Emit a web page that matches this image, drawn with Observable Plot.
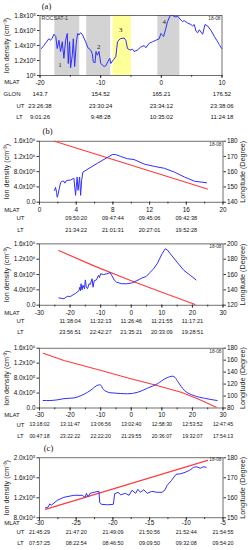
<!DOCTYPE html>
<html><head><meta charset="utf-8">
<script src="https://cdn.jsdelivr.net/npm/d3@7"></script>
<script src="https://cdn.jsdelivr.net/npm/@observablehq/plot@0.6"></script>
<style>
body{margin:0;background:#fff;}
#chart{position:relative;width:248px;height:550px;overflow:hidden;background:#fff;}
#chart svg{position:absolute;left:0;}
</style></head><body><div id="chart"></div>
<script>
const fontH = '"Liberation Sans Narrow","Liberation Sans",Arial,sans-serif';
const fontV = '"Liberation Sans",Arial,sans-serif';
const fontSerif = '"Liberation Serif","Times New Roman",serif';
const BLUE = "#2f2fff", RED = "#ff3b3b";

// ---------- Panel (a) ----------
const aMlat = [-19.75,-19.37,-18.81,-18.54,-18.26,-17.98,-17.7,-17.4,-17.16,-16.88,-16.61,-16.33,-16.06,-15.78,-15.5,-15.34,-15.12,-14.96,-14.68,-14.51,-14.29,-14.02,-13.8,-13.58,-13.31,-13.03,-12.48,-12.1,-11.65,-11.38,-11.21,-10.93,-10.77,-10.55,-10.27,-9.99,-9.44,-9.17,-8.78,-8.5,-8.34,-7.9,-7.5,-7.23,-6.79,-6.13,-5.85,-5.58,-5.14,-4.75,-4.48,-3.93,-3.38,-2.83,-2.55,-2.0,-1.45,-0.9,-0.35,-0.08,0.2,0.37,0.75,1.03,1.47,1.85,2.4,2.68,3.23,3.5,3.78,4.33,4.88,5.16,5.43,5.71,5.98,6.26,6.81,7.2,7.64,8.19,8.74,9.13,9.57,9.95];
const aDens = [1.36,1.40,1.46,1.49,1.47,1.50,1.55,1.52,1.36,1.47,1.32,1.45,1.23,1.47,1.56,1.16,1.45,1.10,1.27,1.49,1.12,1.43,1.56,1.54,1.57,1.55,1.45,1.37,1.34,1.29,1.18,1.17,1.32,1.27,1.32,1.16,1.12,1.13,1.19,1.23,1.16,1.21,1.25,1.45,1.49,1.50,1.47,1.36,1.34,1.35,1.32,1.34,1.38,1.40,1.37,1.43,1.45,1.47,1.49,1.56,1.54,1.52,1.63,1.72,1.80,1.80,1.78,1.79,1.74,1.72,1.73,1.70,1.68,1.66,1.68,1.59,1.57,1.61,1.55,1.68,1.66,1.60,1.52,1.47,1.41,1.36];
const aShadeStart = [-17.55,-12.3,-7.97,-0.58];
const aShadeEnd = [-13.45,-8.35,-4.93,3.06];
const aShadeColor = ["#d3d3d3","#d3d3d3","#ffff99","#d3d3d3"];
const aRegionName = ["1","2","3","4"];
const aRegionMlat = [-16.7,-10.3,-6.7,0.5];
const aRegionDens = [1.14,1.38,1.61,1.72];
const aYTicks = [1.0,1.2,1.4,1.6,1.8];
const aYLabels = ["10\u2075","1.2x10\u2075","1.4x10\u2075","1.6x10\u2075","1.8x10\u2075"];
const aXTicks = [-20,-10,0,10];
const aXMinor = [-20,-15,-10,-5,0,5,10];
const aGLON = ["143.7","154.52","165.21","176.52"];
const aUT = ["23:26:38","23:30:24","23:34:12","23:38:06"];
const aLT = ["9:01:26","9:48:28","10:35:02","11:24:18"];

// ---------- Panel (b) top ----------
const b1Mlat = [1.64,1.75,1.86,1.93,2.04,2.15,2.3,2.48,2.66,2.77,2.95,3.39,3.75,3.93,4.1,4.2,4.37,4.48,4.59,4.73,6.3,7.94,8.3,8.85,9.58,10.3,11.4,12.5,13.6,14.7,15.8,16.9,18.2];
const b1Dens = [0.31,0.39,0.26,0.13,0.22,0.35,0.52,0.55,0.55,0.50,0.57,0.58,0.63,0.18,0.66,0.31,0.66,0.18,0.57,0.79,1.02,1.25,1.25,1.20,1.14,1.12,1.00,0.94,0.89,0.79,0.66,0.55,0.51];
const b1LonMlat = [1.64,18.3];
const b1Lon = [180,148.6];
const b1XTicks = [0,4,8,12,16,20];
const b1XMinor = [0,2,4,6,8,10,12,14,16,18,20];
const b1UTpos = [4,8,12,16];
const b1UT = ["09:50:20","09:47:44","09:45:06","09:42:38"];
const b1LT = ["21:34:22","21:01:31","20:27:01","19:52:28"];
const bYTicks = [0,0.4,0.8,1.2,1.6];
const bYLabels = ["0.0","4.0x10\u2075","8.0x10\u2075","1.2x10\u2076","1.6x10\u2076"];
const b1RTicks = [140,150,160,170,180];

// ---------- Panel (b) middle ----------
const b2Mlat = [-23.67,-22.03,-20.93,-19.84,-18.2,-17.1,-16.8,-16.6,-16.4,-16.1,-15.8,-15.3,-15.0,-14.7,-14.3,-13.8,-13.4,-12.8,-12.5,-12.1,-11.4,-10.7,-10.4,-10.0,-9.1,-8.0,-6.9,-6.4,-5.6,-4.8,-3.1,-1.5,0.2,1.85,3.5,4.9,6.2,7.3,8.6,10.05,11.1,11.7,12.8,15.0,17.2,19.3,21.2];
const b2Dens = [0.19,0.17,0.23,0.23,0.31,0.38,0.47,0.38,0.56,0.40,0.52,0.43,0.66,0.47,0.43,0.56,0.54,0.69,0.47,0.64,0.66,0.78,0.72,0.82,0.80,0.82,0.85,0.78,0.66,0.60,0.56,0.56,0.58,0.64,0.71,0.75,0.86,0.95,1.10,1.34,1.47,1.45,1.34,1.12,0.91,0.78,0.66];
const b2LonMlat = [-23.7,-12,0,10,20.9];
const b2Lon = [191.4,171,152,137,121];
const b2XTicks = [-30,-20,-10,0,10,20,30];
const b2XMinor = [-30,-25,-20,-15,-10,-5,0,5,10,15,20,25,30];
const b2UTpos = [-20,-10,0,10,20];
const b2UT = ["11:38:04","11:32:13","11:26:46","11:21:55","11:17:21"];
const b2LT = ["23:56:51","22:42:27","21:35:21","20:33:09","19:28:51"];
const b2RTicks = [120,140,160,180,200];

// ---------- Panel (b) bottom ----------
const b3Mlat = [-28.8,-26.6,-24,-22,-18.7,-16.5,-14.3,-12.7,-11.3,-10.3,-9.8,-9.4,-8.3,-7,-5.6,-1.2,2.1,5.3,8.6,11.4,13.6,14.3,15.2,17.4,20.6,24,28.1];
const b3Dens = [0.20,0.20,0.22,0.25,0.27,0.33,0.42,0.51,0.60,0.62,0.60,0.53,0.45,0.41,0.40,0.38,0.42,0.53,0.65,0.80,0.85,0.82,0.71,0.47,0.33,0.26,0.20];
const b3LonMlat = [-28.8,-22,-11.05,-0.13,7.5,16.3,21.7,27.8];
const b3Lon = [171.5,159.4,144.4,128.8,118.8,106.4,95.4,81.3];
const b3XTicks = [-30,-20,-10,0,10,20,30];
const b3UTpos = [-30,-20,-10,0,10,20,30];
const b3UT = ["13:18:02","13:11:47","13:06:56","13:02:40","12:58:30","12:53:52","12:47:45"];
const b3LT = ["00:47:18","23:22:22","22:22:20","21:29:55","20:36:07","19:32:07","17:54:13"];
const b3RTicks = [80,100,120,140,160,180];

// ---------- Panel (c) ----------
const cMlat = [-29.18,-28.86,-28.59,-28.4,-27.58,-26.68,-25.31,-24.17,-23.8,-23.6,-23.4,-23.1,-22.58,-21.9,-21.8,-21.58,-20.76,-19.94,-19.76,-19.3,-18.94,-18.3,-17.8,-17.4,-16.9,-16.6,-16.25,-15.8,-15.3,-14.7,-14.0,-13.3,-12.9,-12.6,-12.0,-11.4,-10.8,-10.15,-9.55,-9.0,-8.55,-8.1,-7.7,-7.3];
const cDens = [1.00,1.01,1.08,1.05,1.15,1.21,1.25,1.25,1.21,1.29,1.22,1.29,1.31,1.33,1.11,1.07,1.06,1.07,1.28,1.31,1.26,1.29,1.25,1.35,1.29,1.37,1.31,1.36,1.29,1.33,1.31,1.31,1.36,1.45,1.55,1.67,1.68,1.71,1.75,1.81,1.82,1.79,1.82,1.81];
const cLonMlat = [-29.2,-7.1];
const cLon = [154.2,178.7];
const cXTicks = [-30,-25,-20,-15,-10,-5];
const cXMinor = [-30,-27.5,-25,-22.5,-20,-17.5,-15,-12.5,-10,-7.5,-5];
const cUTpos = [-30,-25,-20,-15,-10,-5];
const cUT = ["21:45:29","21:47:20","21:49:09","21:50:56","21:52:44","21:54:55"];
const cLT = ["07:57:25","08:22:54","08:46:50","09:09:50","09:32:08","09:54:20"];
const cYTicks = [0.8,1.2,1.6,2.0];
const cYLabels = ["8.0x10\u2074","1.2x10\u2075","1.6x10\u2075","2.0x10\u2075"];
const cRTicks = [150,160,170,180];

const idx = (a) => a.map((_, i) => i);

function panel(c) {
  const ml = c.ml ?? 39, mr = c.mr ?? 25.5;
  const [y0, y1] = c.yDomain;
  const toY = c.rDomain ? (v) => y0 + (v - c.rDomain[0]) / (c.rDomain[1] - c.rDomain[0]) * (y1 - y0) : null;
  const yMap = new Map(c.yTicks.map((v, i) => [v, c.yLabels[i]]));
  const marks = [];
  if (c.shade) marks.push(Plot.rect(idx(c.shade.x1), {x1: (i) => c.shade.x1[i], x2: (i) => c.shade.x2[i], fill: (i) => c.shade.fill[i]}));
  marks.push(Plot.frame({stroke: "#333", strokeWidth: 0.7}));
  marks.push(Plot.axisX(c.xMinor || c.xTicks, {tickSize: 1.8, tickFormat: () => "", stroke: "#333"}));
  marks.push(Plot.axisX(c.xTicks, {tickSize: 3, tickFormat: () => "", stroke: "#333"}));
  marks.push(Plot.text(c.xTicks, {x: (d) => d, text: (d) => String(d), frameAnchor: "bottom", dy: c.mlatDy, fontSize: 6.4, textAnchor: "middle", lineAnchor: "middle", fill: "#111"}));
  marks.push(Plot.axisY(c.yTicks, {anchor: "left", tickSize: 2.5, tickPadding: 1.5, tickFormat: (d) => yMap.get(d), fontSize: 6.4, label: null, stroke: "#333", fill: "#111"}));
  marks.push(Plot.text(["Ion density (cm\u207B\u00B3)"], {frameAnchor: "left", rotate: -90, dx: 6 - ml, fontSize: 7.2, fontFamily: fontV, textAnchor: "middle", lineAnchor: "middle", fill: "#222"}));
  if (toY) {
    const rMap = new Map(c.rTicks.map((v) => [toY(v), String(v)]));
    marks.push(Plot.axisY(c.rTicks.map(toY), {anchor: "right", tickSize: 2.5, tickPadding: 1.5, tickFormat: (d) => rMap.get(d), fontSize: 6.4, label: null, stroke: "#333", fill: "#111"}));
    marks.push(Plot.text(["Longitude (Degree)"], {frameAnchor: "right", rotate: -90, dx: 242 - (248 - mr), fontSize: 7.2, fontFamily: fontV, textAnchor: "middle", lineAnchor: "middle", fill: "#222"}));
    marks.push(Plot.line(idx(c.red.m), {x: (i) => c.red.m[i], y: (i) => toY(c.red.lon[i]), stroke: RED, strokeWidth: 1.1}));
  }
  marks.push(Plot.line(idx(c.blue.m), {x: (i) => c.blue.m[i], y: (i) => c.blue.d[i], stroke: BLUE, strokeWidth: 1, curve: c.curve || "linear"}));
  if (c.regions) marks.push(Plot.text(idx(c.regions.name), {x: (i) => c.regions.x[i], y: (i) => c.regions.y[i], text: (i) => c.regions.name[i], fontFamily: fontSerif, fontSize: 7, fill: "#222"}));
  for (const n of (c.notes || [])) marks.push(Plot.text([n.text], {frameAnchor: n.anchor, dx: n.dx, dy: n.dy, fontSize: n.size, textAnchor: n.ta, lineAnchor: "middle", fill: "#333"}));
  if (c.title) marks.push(Plot.text([c.title], {frameAnchor: "top-left", dx: c.titleX - ml, dy: c.titleY, fontFamily: fontSerif, fontSize: 8.5, textAnchor: "middle", lineAnchor: "middle", fill: "#111"}));
  marks.push(Plot.text(["MLAT"], {frameAnchor: "bottom-left", dx: 11.5 - ml, dy: c.mlatDy, fontSize: 6, textAnchor: "middle", lineAnchor: "middle", fill: "#111"}));
  for (const r of c.rows) {
    marks.push(Plot.text([r.name], {frameAnchor: "bottom-left", dx: r.nameX - ml, dy: r.dy, fontSize: 6, textAnchor: "middle", lineAnchor: "middle", fill: "#111"}));
    marks.push(Plot.text(idx(r.labels), {x: (i) => r.pos[i], text: (i) => r.labels[i], frameAnchor: "bottom", dy: r.dy, fontSize: r.size || 5.6, textAnchor: "middle", lineAnchor: "middle", fill: "#111"}));
  }
  const svg = Plot.plot({
    width: 248, height: c.height,
    marginTop: c.mt, marginBottom: c.height - c.mt - c.frameH, marginLeft: ml, marginRight: mr,
    x: {domain: c.xDomain}, y: {domain: c.yDomain},
    style: {fontFamily: fontH, fontSize: "6px", color: "#222", background: "transparent", overflow: "visible"},
    marks
  });
  svg.style.top = c.top + "px";
  return svg;
}

const chart = document.getElementById("chart");

chart.appendChild(panel({
  top: 0, height: 124, mt: 15, frameH: 60, ml: 39.5, mr: 26.5,
  xDomain: [-20, 10], yDomain: [1.0, 1.8], xTicks: aXTicks, xMinor: aXMinor,
  yTicks: aYTicks, yLabels: aYLabels, mlatDy: 7,
  shade: {x1: aShadeStart, x2: aShadeEnd, fill: aShadeColor},
  regions: {name: aRegionName, x: aRegionMlat, y: aRegionDens},
  blue: {m: aMlat, d: aDens},
  title: "(a)", titleX: 46, titleY: -9,
  notes: [{text: "ROCSAT-1", anchor: "top-left", dx: 1.5, dy: 3, size: 5.4, ta: "start"},
          {text: "18-08", anchor: "top-right", dx: -1.5, dy: 3, size: 4.8, ta: "end"}],
  rows: [{name: "GLON", nameX: 11.5, dy: 19, labels: aGLON, pos: aXTicks, size: 6},
         {name: "UT", nameX: 20, dy: 31, labels: aUT, pos: aXTicks, size: 6},
         {name: "LT", nameX: 19, dy: 42, labels: aLT, pos: aXTicks, size: 6}]
}));

chart.appendChild(panel({
  top: 122, height: 116, mt: 18.7, frameH: 61,
  xDomain: [0, 20], yDomain: [0, 1.6], rDomain: [140, 180],
  xTicks: b1XTicks, xMinor: b1XMinor, yTicks: bYTicks, yLabels: bYLabels, rTicks: b1RTicks, mlatDy: 7.5,
  blue: {m: b1Mlat, d: b1Dens}, red: {m: b1LonMlat, lon: b1Lon},
  title: "(b)", titleX: 47, titleY: -9.7,
  notes: [{text: "18-08", anchor: "top-right", dx: -1.5, dy: 3, size: 4.8, ta: "end"}],
  rows: [{name: "UT", nameX: 20, dy: 15.6, labels: b1UT, pos: b1UTpos},
         {name: "LT", nameX: 20, dy: 27.6, labels: b1LT, pos: b1UTpos}]
}));

chart.appendChild(panel({
  top: 238, height: 102, mt: 5.4, frameH: 61.3,
  xDomain: [-30, 30], yDomain: [0, 1.6], rDomain: [120, 200],
  xTicks: b2XTicks, xMinor: b2XMinor, yTicks: bYTicks, yLabels: bYLabels, rTicks: b2RTicks, mlatDy: 7.6,
  blue: {m: b2Mlat, d: b2Dens}, red: {m: b2LonMlat, lon: b2Lon}, curve: "linear",
  notes: [{text: "18-08", anchor: "top-right", dx: -1.5, dy: 3, size: 4.8, ta: "end"}],
  rows: [{name: "UT", nameX: 20, dy: 16, labels: b2UT, pos: b2UTpos},
         {name: "LT", nameX: 20, dy: 27, labels: b2LT, pos: b2UTpos}]
}));

chart.appendChild(panel({
  top: 340, height: 102, mt: 7.7, frameH: 59.8,
  xDomain: [-30, 30], yDomain: [0, 1.6], rDomain: [80, 180],
  xTicks: b3XTicks, xMinor: b2XMinor, yTicks: bYTicks, yLabels: bYLabels, rTicks: b3RTicks, mlatDy: 6.8,
  blue: {m: b3Mlat, d: b3Dens}, red: {m: b3LonMlat, lon: b3Lon}, curve: "monotone-x",
  notes: [{text: "18-08", anchor: "top-right", dx: -1.5, dy: 3, size: 4.8, ta: "end"}],
  rows: [{name: "UT", nameX: 20, dy: 16.8, labels: b3UT, pos: b3UTpos, size: 5.2},
         {name: "LT", nameX: 20, dy: 28.2, labels: b3LT, pos: b3UTpos, size: 5.2}]
}));

chart.appendChild(panel({
  top: 442, height: 108, mt: 15.3, frameH: 60,
  xDomain: [-30, -5], yDomain: [0.8, 2.0], rDomain: [150, 180],
  xTicks: cXTicks, xMinor: cXMinor, yTicks: cYTicks, yLabels: cYLabels, rTicks: cRTicks, mlatDy: 5.5,
  blue: {m: cMlat, d: cDens}, red: {m: cLonMlat, lon: cLon},
  title: "(c)", titleX: 48, titleY: -9.3,
  notes: [{text: "18-08", anchor: "top-right", dx: -1.5, dy: 2, size: 4.8, ta: "end"}],
  rows: [{name: "UT", nameX: 20, dy: 14.4, labels: cUT, pos: cUTpos, size: 5.4},
         {name: "LT", nameX: 20, dy: 25.4, labels: cLT, pos: cUTpos, size: 5.4}]
}));
</script></body></html>
